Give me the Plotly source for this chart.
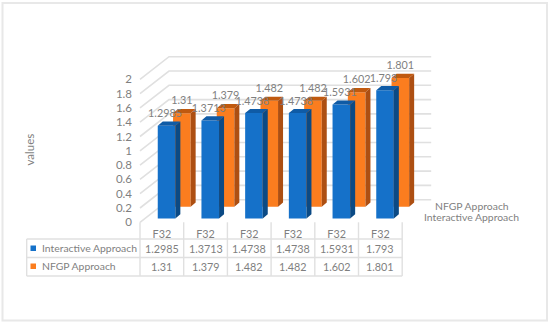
import plotly.graph_objects as go

categories = ["F32"] * 6
interactive = [1.2985, 1.3713, 1.4738, 1.4738, 1.5931, 1.793]
nfgp = [1.31, 1.379, 1.482, 1.482, 1.602, 1.801]
interactive_labels = ["1.2985", "1.3713", "1.4738", "1.4738", "1.5931", "1.793"]
nfgp_labels = ["1.31", "1.379", "1.482", "1.482", "1.602", "1.801"]
y_ticks = [0, 0.2, 0.4, 0.6, 0.8, 1, 1.2, 1.4, 1.6, 1.8, 2]
y_ticktext = ["0", "0.2", "0.4", "0.6", "0.8", "1", "1.2", "1.4", "1.6", "1.8", "2"]

W, H = 550, 324
X0, Y0 = 140.0, 222.3      # pixel of category edge 0 / value 0 on the front plane
PX_CAT, PX_VAL = 43.7, 71.5


def dx(px):
    return px / PX_CAT


def dy(px):
    return px / PX_VAL


def ux(px):
    return (px - X0) / PX_CAT


def vy(py):
    return (Y0 - py) / PX_VAL


TEXT = "#7f7f7f"
GRID = "#e0e0e0"
FONT = "Lato"
FS = 10.8
FS_LONG = 10.4
N = len(categories)
BAR_W = dx(17.6)
DEPTH_X, DEPTH_Y = dx(29), dy(22.6)
SIDE_X, SIDE_Y = dx(5), dy(4.2)

fig = go.Figure()

# grid: back wall and left wall
gx, gy = [], []
for t in y_ticks:
    gx += [0, DEPTH_X, DEPTH_X + N, None]
    gy += [t, t + DEPTH_Y, t + DEPTH_Y, None]
fig.add_trace(go.Scatter(x=gx, y=gy, mode="lines", line=dict(color=GRID, width=1.6),
                         hoverinfo="skip", showlegend=False, zorder=0))


def add_series(name, values, labels, off_x, off_y, front, top, side, z, lab_dx, lab_dy):
    centers = [i + 0.5 + dx(off_x) for i in range(N)]
    base = dy(off_y)
    fig.add_trace(go.Bar(x=centers, y=values, base=[base] * N, width=BAR_W, name=name,
                         marker=dict(color=front, line=dict(width=0)), showlegend=False, zorder=z))
    tx, ty, sx, sy = [], [], [], []
    for c, v in zip(centers, values):
        l, r, t, b = c - BAR_W / 2, c + BAR_W / 2, v + base, base
        tx += [l, r, r + SIDE_X, l + SIDE_X, l, None]
        ty += [t, t, t + SIDE_Y, t + SIDE_Y, t, None]
        sx += [r, r + SIDE_X, r + SIDE_X, r, r, None]
        sy += [t, t + SIDE_Y, b + SIDE_Y, b, t, None]
    for px_, py_, col in ((tx, ty, top), (sx, sy, side)):
        fig.add_trace(go.Scatter(x=px_, y=py_, mode="lines", fill="toself", fillcolor=col,
                                 line=dict(width=0), hoverinfo="skip", showlegend=False, zorder=z))
    fig.add_trace(go.Scatter(x=[c + dx(lab_dx) for c in centers],
                             y=[v + base + dy(lab_dy) for v in values],
                             mode="text", text=labels, textposition="middle center",
                             textfont=dict(family=FONT, size=FS, color=TEXT),
                             hoverinfo="skip", showlegend=False, zorder=3))


add_series("NFGP Approach", nfgp, nfgp_labels, 20.0, 15.5,
           "#fb7d1f", "#c0590f", "#ad4f12", 1, 0.0, 11.5)
add_series("Interactive Approach", interactive, interactive_labels, 4.7, 3.8,
           "#1571c9", "#0f5ba6", "#0b4a85", 2, -1.5, 11.0)

# table lines
col_edges = [i for i in range(N + 1)]
row_lines = [239.0, 257.5, 276.0]
tx, ty = [], []
for e in col_edges:
    tx += [e, e, None]
    ty += [0, vy(276.0), None]
for r in row_lines:
    tx += [ux(26.7), N, None]
    ty += [vy(r), vy(r), None]
tx += [ux(26.7), ux(26.7), None]
ty += [vy(239), vy(276), None]
fig.add_trace(go.Scatter(x=tx, y=ty, mode="lines", line=dict(color=GRID, width=1.4),
                         hoverinfo="skip", showlegend=False, zorder=0))

annos = []


def note(x, y, text, **kw):
    kw.setdefault("xanchor", "center")
    annos.append(dict(x=x, y=y, xref="x", yref="y", text=text, showarrow=False,
                      yanchor="middle", font=dict(family=FONT, size=kw.pop("size", FS), color=TEXT), **kw))


for i in range(N):
    note(i + 0.5, vy(248.5), interactive_labels[i])
    note(i + 0.5, vy(266.8), nfgp_labels[i])
note(ux(39.5), vy(248.2), "Interactive Approach", xanchor="left", size=FS_LONG)
note(ux(39.5), vy(266.2), "NFGP Approach", xanchor="left", size=FS_LONG)
note(ux(472), vy(205.7), "NFGP Approach", size=FS_LONG)
note(ux(471), vy(216.8), "Interactive Approach", size=FS_LONG)
note(ux(28.5), vy(150), "values", textangle=-90, size=11.5)

shapes = [
    dict(type="rect", xref="paper", yref="paper", x0=2.5 / W, x1=547 / W, y0=1 - 320.5 / H, y1=1 - 3 / H,
         line=dict(color="#e8e8e8", width=2), fillcolor="white", layer="below"),
    dict(type="rect", xref="x", yref="y", x0=ux(30.5), x1=ux(36), y0=vy(245.5), y1=vy(251), line=dict(width=0),
         fillcolor="#1571c9"),
    dict(type="rect", xref="x", yref="y", x0=ux(30.5), x1=ux(36), y0=vy(263.5), y1=vy(269), line=dict(width=0),
         fillcolor="#fb7d1f"),
]

fig.update_layout(
    width=W, height=H, margin=dict(l=0, r=0, t=0, b=0),
    autosize=False,
    paper_bgcolor="white", plot_bgcolor="rgba(0,0,0,0)",
    showlegend=False, barmode="overlay",
    annotations=annos, shapes=shapes,
    xaxis=dict(range=[ux(0), ux(W)], domain=[0, 1], anchor="free", position=1 - Y0 / H,
               tickmode="array", tickvals=[i + 0.5 for i in range(N)], ticktext=categories,
               tickfont=dict(family=FONT, size=FS, color=TEXT), ticks="", showgrid=False,
               showline=False, zeroline=False, ticklabelstandoff=4, fixedrange=True),
    yaxis=dict(range=[vy(H), vy(0)], domain=[0, 1], anchor="free", position=X0 / W,
               tickmode="array", tickvals=y_ticks, ticktext=y_ticktext,
               tickfont=dict(family=FONT, size=11.5, color=TEXT), ticks="", showgrid=False,
               showline=False, zeroline=False, ticklabelstandoff=8, fixedrange=True),
)
fig.write_html("out.html", config=dict(displayModeBar=False),
               post_script="document.body.style.margin='0';document.body.style.overflow='hidden';")
